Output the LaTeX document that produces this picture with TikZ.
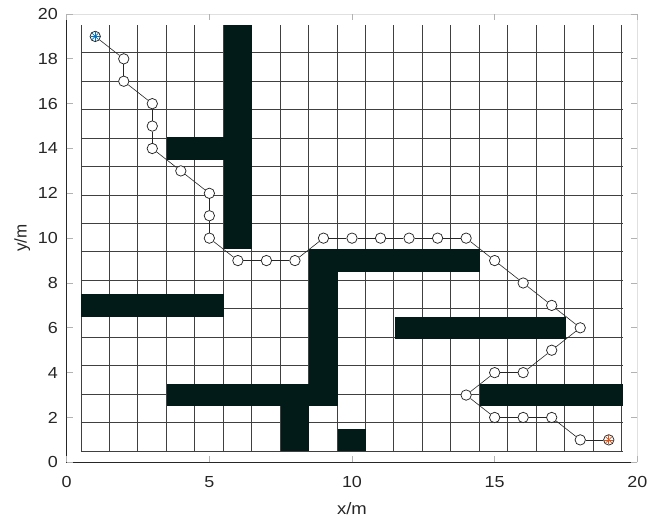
\documentclass[tikz,border=0pt]{standalone}
\usepackage{fontspec}
\setmainfont{Liberation Sans}[FakeStretch=1.12]
\newfontfamily\rotfont{Liberation Sans}
\definecolor{obstc}{RGB}{2,26,24}
\definecolor{axc}{RGB}{38,38,38}
\definecolor{startc}{RGB}{0,114,189}
\definecolor{goalc}{RGB}{217,83,25}
\begin{document}
\begin{tikzpicture}[x=28.53pt,y=22.415pt,
  obst/.style={fill=obstc,draw=none},
  gridln/.style={draw=black!75,line width=0.9pt},
  axisdark/.style={draw=axc,line width=0.8pt},
  axislight/.style={draw=black!12,line width=0.8pt},
  tickln/.style={draw=black!30,line width=0.8pt},
  wp/.style={circle,draw=black!85,fill=white,line width=0.75pt,minimum size=10.4pt,inner sep=0pt},
  pathln/.style={draw=black!85,line width=0.6pt},
  ticklab/.style={text=axc,font=\fontsize{16}{18}\selectfont,inner sep=0pt},
  axlab/.style={text=axc,font=\fontsize{16.5}{18}\selectfont,inner sep=0pt},
]
\useasboundingbox (-2.338,-2.530) rectangle (20.936,20.625);
% axes box
\draw[axislight] (0,20) -- (20,20) -- (20,0);
\draw[axisdark] (0,20) -- (0,0) -- (20,0);
% ticks
\foreach \t in {0,2,...,20} {
  \draw[tickln] (0,\t) -- ++(6pt,0);
  \draw[tickln] (20,\t) -- ++(-6pt,0);
  \node[ticklab,anchor=east] (yt\t) at (-0.305,\t) {\t};
}
\foreach \t in {0,5,10,15,20} {
  \draw[tickln] (\t,0) -- ++(0,6pt);
  \draw[tickln] (\t,20) -- ++(0,-6pt);
  \node[ticklab,anchor=center] (xt\t) at (\t,-0.90) {\t};
}
\node[axlab,anchor=base] (xlab) at (10,-2.351) {x/m};
\node[axlab,anchor=base,rotate=90,font=\rotfont\fontsize{17}{18}\selectfont] (ylab) at (-1.402,10) {y/m};
% grid
\draw[gridln,shift={(0.5,0.5)}] (0,0) grid (19,19);
% obstacles
\fill[obst] (5.5,9.5) rectangle (6.5,19.5);
\fill[obst] (3.5,13.5) rectangle (5.5,14.5);
\fill[obst] (0.5,6.5) rectangle (5.5,7.5);
\fill[obst] (8.5,8.5) rectangle (14.5,9.5);
\fill[obst] (8.5,2.5) rectangle (9.5,8.5);
\fill[obst] (3.5,2.5) rectangle (8.5,3.5);
\fill[obst] (7.5,0.5) rectangle (8.5,2.5);
\fill[obst] (9.5,0.5) rectangle (10.5,1.5);
\fill[obst] (11.5,5.5) rectangle (17.5,6.5);
\fill[obst] (14.5,2.5) rectangle (19.5,3.5);
% path
\foreach \px/\py [count=\i] in {1/19,2/18,2/17,3/16,3/15,3/14,4/13,5/12,5/11,5/10,6/9,7/9,8/9,9/10,10/10,11/10,12/10,13/10,14/10,15/9,16/8,17/7,18/6,17/5,16/4,15/4,14/3,15/2,16/2,17/2,18/1,19/1}
  \node[wp] (p\i) at (\px,\py) {};
\foreach \i [evaluate=\i as \j using int(\i+1)] in {1,...,31}
  \draw[pathln] (p\i) -- (p\j);
% start and goal stars
\foreach \a in {0,45,90,135} {
  \draw[startc,line width=0.7pt] ([shift={(\a:4.5pt)}]p1.center) -- ([shift={(\a+180:4.5pt)}]p1.center);
  \draw[goalc,line width=0.7pt] ([shift={(\a:4.5pt)}]p32.center) -- ([shift={(\a+180:4.5pt)}]p32.center);
}
\end{tikzpicture}
\end{document}
